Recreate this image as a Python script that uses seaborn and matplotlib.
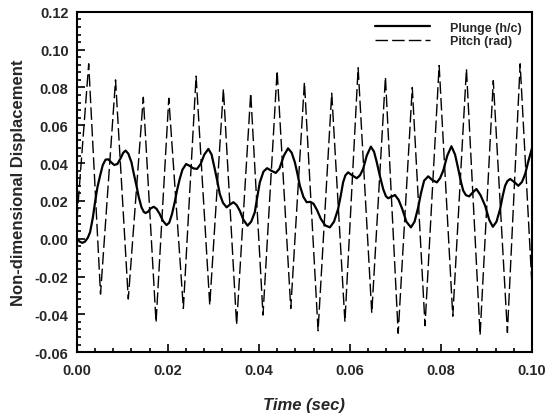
import matplotlib
matplotlib.use('Agg')
import matplotlib.pyplot as plt
import seaborn as sns
import pandas as pd
from matplotlib.ticker import MultipleLocator, FormatStrFormatter

# Plunge (h/c): time in ms, value
plunge_t = [0.0, 0.6, 1.2, 1.8, 2.4, 2.9, 3.5, 4.0, 4.5, 5.1, 5.7, 6.3, 6.9, 7.5, 8.2,
            8.9, 9.6, 10.2, 10.7, 11.3, 12.0, 12.5, 13.1, 13.6, 14.2, 14.7, 15.1, 15.6,
            16.2, 16.9, 17.5, 18.2, 18.9, 19.7, 20.3, 20.9, 21.5, 22.0, 22.6, 23.2,
            24.0, 24.8, 25.6, 26.4, 27.2, 28.0, 28.9, 29.6, 30.3, 30.9, 31.4, 32.1,
            32.9, 33.6, 34.4, 35.1, 35.8, 36.6, 37.5, 38.3, 39.1, 39.6, 40.2, 41.0,
            41.8, 42.7, 43.7, 44.5, 45.5, 46.4, 47.2, 47.9, 48.5, 49.0, 49.8, 50.5,
            51.3, 52.0, 52.8, 53.6, 54.6, 55.6, 56.5, 57.4, 58.0, 58.5, 59.0, 59.6,
            60.5, 61.5, 62.2, 62.9, 63.7, 64.6, 65.3, 65.9, 66.6, 67.3, 67.9, 68.4,
            69.1, 69.9, 70.7, 71.5, 72.4, 73.4, 74.2, 75.0, 75.6, 76.3, 77.2, 78.1,
            79.1, 79.8, 80.5, 81.4, 82.3, 83.1, 83.8, 84.4, 84.9, 85.5, 86.2, 87.0,
            87.8, 88.7, 89.7, 90.6, 91.4, 92.2, 93.0, 93.6, 94.1, 94.6, 95.2, 96.1,
            97.0, 97.8, 98.5, 99.2, 100.0]
plunge_v = [0.0, -0.0015, -0.0022, -0.0015, 0.0005, 0.0034, 0.011, 0.0193, 0.027,
            0.0333, 0.039, 0.0418, 0.0420, 0.0405, 0.0390, 0.0395, 0.0425, 0.0455,
            0.0466, 0.0450, 0.0404, 0.0345, 0.0280, 0.0220, 0.0166, 0.0142, 0.0136,
            0.0142, 0.0160, 0.0169, 0.0158, 0.0131, 0.0095, 0.0072, 0.0085, 0.0130,
            0.0193, 0.0255, 0.0316, 0.0365, 0.0395, 0.0385, 0.0372, 0.0369, 0.0395,
            0.0445, 0.0475, 0.0445, 0.0369, 0.0300, 0.0237, 0.0190, 0.0166, 0.0180,
            0.0193, 0.0178, 0.0148, 0.0100, 0.0069, 0.0090, 0.0140, 0.0215, 0.0298,
            0.0355, 0.0373, 0.0360, 0.0348, 0.0370, 0.0440, 0.0478, 0.0455, 0.0404,
            0.0340, 0.0280, 0.0220, 0.0193, 0.0195, 0.0185, 0.0150, 0.0105, 0.0070,
            0.0060, 0.0090, 0.0157, 0.0230, 0.0298, 0.0335, 0.0351, 0.0335, 0.0320,
            0.0335, 0.0369, 0.0440, 0.0487, 0.0460, 0.0404, 0.0330, 0.0263, 0.0225,
            0.0214, 0.0222, 0.0231, 0.0205, 0.0157, 0.0090, 0.0060, 0.0090, 0.0166,
            0.0240, 0.0307, 0.0330, 0.0310, 0.0298, 0.0320, 0.0360, 0.0440, 0.0489,
            0.0445, 0.0369, 0.0300, 0.0254, 0.0230, 0.0224, 0.0245, 0.0263, 0.0230,
            0.0175, 0.0100, 0.0063, 0.0090, 0.0157, 0.0230, 0.0280, 0.0305, 0.0316,
            0.0300, 0.0280, 0.0300, 0.0342, 0.0410, 0.0478]

# Pitch (rad): peaks and troughs
pitch_t = [0.0, 2.6, 5.2, 8.5, 11.3, 14.6, 17.4, 20.2, 23.4, 26.2, 29.2, 32.2, 35.1,
           38.2, 40.9, 44.0, 47.0, 50.0, 53.0, 56.0, 58.9, 61.8, 64.8, 67.8, 70.6,
           73.7, 76.5, 79.6, 82.6, 85.6, 88.6, 91.5, 94.6, 97.4, 100.0]
pitch_v = [0.010, 0.0925, -0.0293, 0.084, -0.0319, 0.0748, -0.0443, 0.0743, -0.0369,
           0.086, -0.0351, 0.0792, -0.0455, 0.0770, -0.0404, 0.0889, -0.0369, 0.0828,
           -0.0487, 0.0770, -0.0440, 0.0904, -0.0393, 0.0855, -0.0500, 0.0800,
           -0.0460, 0.0916, -0.0410, 0.0898, -0.0510, 0.0836, -0.0496, 0.0925, -0.025]

plunge = pd.DataFrame({'t': [v / 1000 for v in plunge_t], 'y': plunge_v})
pitch = pd.DataFrame({'t': [v / 1000 for v in pitch_t], 'y': pitch_v})

sns.set_style('white')
plt.rcParams['font.family'] = ['Liberation Sans', 'DejaVu Sans']
plt.rcParams['font.weight'] = 'bold'

fig = plt.figure(figsize=(5.49, 4.14), dpi=100)
ax = fig.add_axes([0.140, 0.147, 0.829, 0.822])

sns.lineplot(data=plunge, x='t', y='y', ax=ax, color='black', lw=1.6,
             label='Plunge (h/c)', sort=False)
sns.lineplot(data=pitch, x='t', y='y', ax=ax, color='black', lw=1.0,
             dashes=False, label='Pitch (rad)', sort=False)
ax.lines[0].set_solid_joinstyle('round')
ax.lines[1].set_dashes((9, 3))

ax.set_xlim(0, 0.10)
ax.set_ylim(-0.06, 0.12)
ax.xaxis.set_major_locator(MultipleLocator(0.02))
ax.xaxis.set_minor_locator(MultipleLocator(0.004))
ax.yaxis.set_major_locator(MultipleLocator(0.02))
ax.yaxis.set_minor_locator(MultipleLocator(0.004))
ax.xaxis.set_major_formatter(FormatStrFormatter('%.2f'))
ax.yaxis.set_major_formatter(FormatStrFormatter('%.2f'))
ax.tick_params(which='both', direction='in', color='black', width=1.2,
               bottom=True, left=True, top=False, right=False)
ax.tick_params(which='major', length=6, labelsize=10.5)
ax.tick_params(axis='x', which='major', pad=8)
ax.tick_params(axis='y', which='major', pad=6)
ax.tick_params(which='minor', length=3)
for lab in ax.get_xticklabels() + ax.get_yticklabels():
    lab.set_fontweight('bold')
for s in ax.spines.values():
    s.set_color('black')
    s.set_linewidth(1.5)

ax.set_xlabel('Time (sec)', fontsize=12, fontweight='bold', style='italic', labelpad=14)
ax.set_ylabel('Non-dimensional Displacement', fontsize=12, fontweight='bold', labelpad=6)

leg = ax.legend(loc='upper right', frameon=False, handlelength=4.4, fontsize=9,
                borderaxespad=0.4, labelspacing=0.1, handletextpad=1.6)
for t in leg.get_texts():
    t.set_fontweight('bold')

fig.savefig('out.png', dpi=100)
